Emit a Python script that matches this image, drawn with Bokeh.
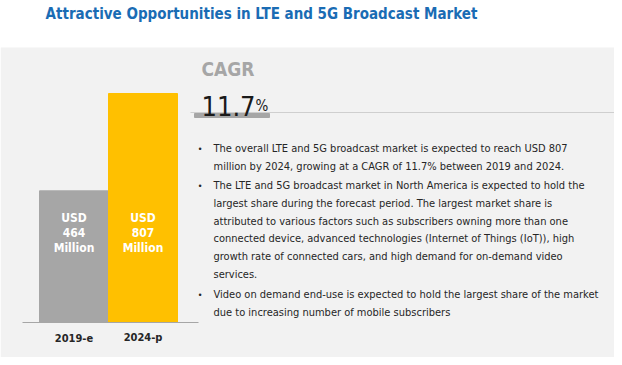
from bokeh.plotting import figure
from bokeh.models import Range1d, BoxAnnotation, Label, ColumnDataSource
from bokeh.core.properties import value
from bokeh.embed import file_html
from bokeh.resources import INLINE

# ---------------- data ----------------
title_text = "Attractive Opportunities in LTE and 5G Broadcast Market"
years = ["2019-e", "2024-p"]
market_usd_mn = [464, 807]
bar_colors = ["#a6a6a6", "#ffc000"]
cagr_label = "CAGR"
cagr_value = "11.7"
cagr_unit = "%"
bullet_lines = [
    "The overall LTE and 5G broadcast market is expected to reach USD 807",
    "million by 2024, growing at a CAGR of 11.7% between 2019 and 2024.",
    "The LTE and 5G broadcast market in North America is expected to hold the",
    "largest share during the forecast period. The largest market share is",
    "attributed to various factors such as subscribers owning more than one",
    "connected device, advanced technologies (Internet of Things (IoT)), high",
    "growth rate of connected cars, and high demand for on-demand video",
    "services.",
    "Video on demand end-use is expected to hold the largest share of the market",
    "due to increasing number of mobile subscribers",
]
bullet_starts = [0, 2, 8]

# ---------------- layout helpers (reference pixel -> data) ----------------
W, H, OFF = 614, 357, 0
BASE = 322               # baseline pixel row
PX_PER_UNIT = 229 / 807  # pixels per USD million
BAR_LEFT, BAR_W = 39, 69

def X(rx):
    return (rx - BAR_LEFT) / BAR_W - 0.5

def Y(ry):
    return (BASE - ry) / PX_PER_UNIT

NARROW = "'DejaVu Sans Condensed', Roboto, sans-serif"

p = figure(width=W, height=H, output_backend="svg", toolbar_location=None,
           x_range=Range1d(X(OFF), X(OFF + W)), y_range=Range1d(Y(OFF + H), Y(OFF)),
           min_border=0, x_axis_type=None, y_axis_type=None)
p.outline_line_color = None
p.background_fill_color = "white"
p.border_fill_color = "white"

p.add_layout(BoxAnnotation(top=Y(47), fill_color="#f2f2f2", fill_alpha=1,
                           line_color=None, level="underlay"))

idx = list(range(len(years)))
src = ColumnDataSource(dict(x=idx, top=market_usd_mn, color=bar_colors, year=years,
                            usd=["USD"] * len(years),
                            val=[str(v) for v in market_usd_mn],
                            mil=["Million"] * len(years)))
p.vbar(x="x", top="top", bottom=0, width=1.0, color="color", source=src)

p.segment(x0=[X(22)], y0=[0], x1=[X(198)], y1=[0], line_color="#a6a6a6", line_width=1)

for col, ry in (("usd", 217), ("val", 232), ("mil", 247)):
    p.text(x="x", y=Y(ry), text=col, source=src, text_color="white",
           text_font=value(NARROW), text_font_size="12px", text_font_style="bold",
           text_align="center", text_baseline="middle")

p.text(x="x", y=Y(337), text="year", source=src, text_color="#262626",
       text_font=value(NARROW), text_font_size="11px", text_font_style="bold",
       text_align="center", text_baseline="middle")

# title
p.add_layout(Label(x=X(261), y=Y(13), text=title_text, text_color="#1a6cb4",
                   text_font=NARROW, text_font_size="15px", text_font_style="bold",
                   text_baseline="middle", text_align="center"))

# CAGR block
p.add_layout(Label(x=X(201), y=Y(68), text=cagr_label, text_color="#a6a6a6",
                   text_font=NARROW, text_font_size="19px", text_font_style="bold",
                   text_baseline="middle"))
p.add_layout(Label(x=X(201), y=Y(105), text=cagr_value, text_color="#1a1a1a",
                   text_font=NARROW, text_font_size="27px",
                   text_baseline="alphabetic"))
p.add_layout(Label(x=X(255), y=Y(105), text=cagr_unit, text_color="#1a1a1a",
                   text_font=NARROW, text_font_size="15px",
                   text_baseline="alphabetic"))
p.segment(x0=[X(190)], y0=[Y(112)], x1=[X(622)], y1=[Y(112)], line_color="#cfcfcf", line_width=1)
p.quad(left=[X(194)], right=[X(269)], top=[Y(113)], bottom=[Y(117)], color="#a6a6a6")

# bullet text
line_ys = [148, 166, 185, 203, 221, 238, 256, 274, 294, 312]
p.text(x=X(213), y=[Y(v) for v in line_ys], text=bullet_lines, text_color="#262626",
       text_font=value(NARROW), text_font_size="11px", text_baseline="middle")
p.text(x=X(198), y=[Y(line_ys[i]) for i in bullet_starts], text=["\u2022"] * len(bullet_starts),
       text_color="#262626", text_font=value("Liberation Sans"), text_font_size="9px",
       text_baseline="middle")

open("out.html", "w").write(file_html(p, INLINE))
